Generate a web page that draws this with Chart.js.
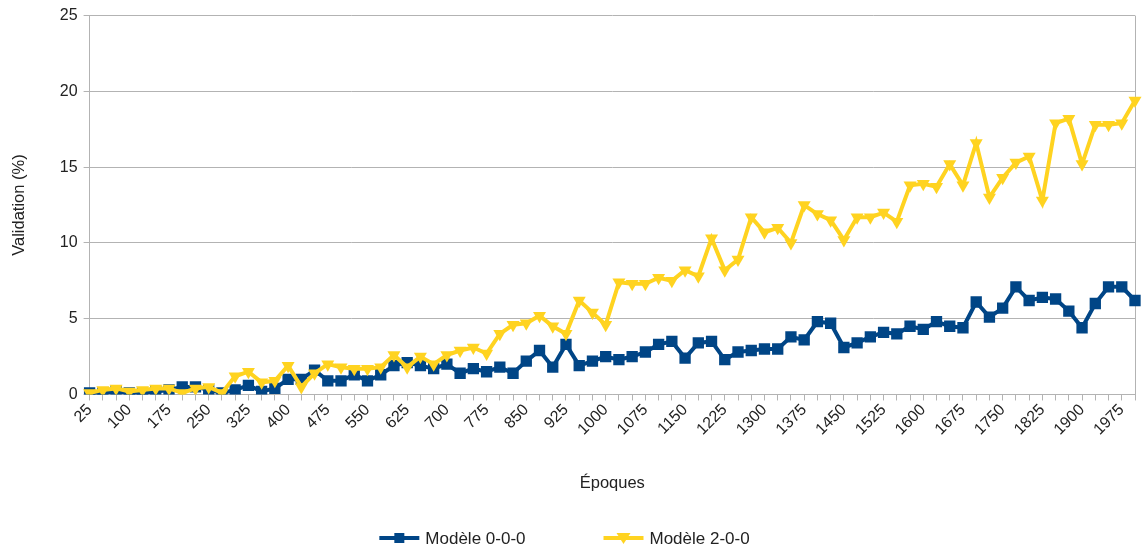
<!DOCTYPE html>
<html>
<head>
<meta charset="utf-8">
<script src="https://cdn.jsdelivr.net/npm/chart.js@4"></script>
<style>
  html, body { margin: 0; padding: 0; background: #ffffff; }
  #wrap { width: 1143px; height: 550px; }
</style>
</head>
<body>
<div id="wrap"><canvas id="c"></canvas></div>
<script>
// Epochs on the horizontal axis
const epochs = [
  25, 50, 75, 100, 125, 150, 175, 200, 225, 250,
  275, 300, 325, 350, 375, 400, 425, 450, 475, 500,
  525, 550, 575, 600, 625, 650, 675, 700, 725, 750,
  775, 800, 825, 850, 875, 900, 925, 950, 975, 1000,
  1025, 1050, 1075, 1100, 1125, 1150, 1175, 1200, 1225, 1250,
  1275, 1300, 1325, 1350, 1375, 1400, 1425, 1450, 1475, 1500,
  1525, 1550, 1575, 1600, 1625, 1650, 1675, 1700, 1725, 1750,
  1775, 1800, 1825, 1850, 1875, 1900, 1925, 1950, 1975, 2000
];

// Validation (%) per epoch
const modele000 = [
  0.1, 0.1, 0.2, 0.1, 0.1, 0.2, 0.3, 0.5, 0.5, 0.3,
  0.1, 0.3, 0.6, 0.2, 0.4, 1.0, 1.0, 1.6, 0.9, 0.9,
  1.3, 0.9, 1.3, 1.9, 2.1, 1.9, 1.7, 2.0, 1.4, 1.7,
  1.5, 1.8, 1.4, 2.2, 2.9, 1.8, 3.3, 1.9, 2.2, 2.5,
  2.3, 2.5, 2.8, 3.3, 3.5, 2.4, 3.4, 3.5, 2.3, 2.8,
  2.9, 3.0, 3.0, 3.8, 3.6, 4.8, 4.7, 3.1, 3.4, 3.8,
  4.1, 4.0, 4.5, 4.3, 4.8, 4.5, 4.4, 6.1, 5.1, 5.7,
  7.1, 6.2, 6.4, 6.3, 5.5, 4.4, 6.0, 7.1, 7.1, 6.2
];

const modele200 = [
  0.1, 0.3, 0.4, 0.2, 0.3, 0.4, 0.4, 0.1, 0.4, 0.5,
  0.1, 1.2, 1.5, 0.8, 0.9, 1.9, 0.5, 1.4, 2.0, 1.8,
  1.7, 1.7, 1.8, 2.6, 1.8, 2.5, 2.0, 2.6, 2.9, 3.1,
  2.7, 4.0, 4.6, 4.7, 5.2, 4.5, 4.0, 6.2, 5.4, 4.6,
  7.4, 7.3, 7.3, 7.7, 7.5, 8.2, 7.8, 10.3, 8.2, 8.9,
  11.7, 10.7, 11.0, 10.0, 12.5, 11.9, 11.5, 10.2, 11.7, 11.7,
  12.0, 11.4, 13.8, 13.9, 13.7, 15.2, 13.8, 16.6, 13.0, 14.3,
  15.3, 15.7, 12.8, 17.9, 18.2, 15.2, 17.8, 17.8, 17.9, 19.4
];

const seriesNames = ['Modèle 0-0-0', 'Modèle 2-0-0'];
const BLUE = '#004586';
const YELLOW = '#ffd320';
const GRID = '#b3b3b3';
const TEXT = '#222222';
const FONT = 'Liberation Sans, Arial, sans-serif';

const lastIndex = epochs.length - 1;

// Bottom legend: a short line with the series marker, then the series name
const lineLegend = {
  id: 'lineLegend',
  afterDraw(chart) {
    const ctx = chart.ctx;
    const fontSize = 17;
    const lineLen = 40, textGap = 6, itemGap = 78;
    const y = chart.height - 12;
    ctx.save();
    ctx.font = fontSize + 'px ' + FONT;
    const widths = chart.data.datasets.map(ds => lineLen + textGap + ctx.measureText(ds.label).width);
    const total = widths.reduce((a, b) => a + b, 0) + itemGap * (widths.length - 1);
    let x = (chart.width - total) / 2 - 7;
    chart.data.datasets.forEach((ds, i) => {
      ctx.strokeStyle = ds.borderColor;
      ctx.fillStyle = ds.borderColor;
      ctx.lineWidth = 4;
      ctx.beginPath();
      ctx.moveTo(x, y); ctx.lineTo(x + lineLen, y);
      ctx.stroke();
      const cx = x + lineLen / 2;
      ctx.beginPath();
      if (ds.pointStyle === 'rect') {
        ctx.rect(cx - 5, y - 5, 10, 10);
      } else {
        ctx.moveTo(cx - 7, y - 5); ctx.lineTo(cx + 7, y - 5); ctx.lineTo(cx, y + 6);
        ctx.closePath();
      }
      ctx.fill();
      ctx.fillStyle = TEXT;
      ctx.textBaseline = 'middle';
      ctx.textAlign = 'left';
      ctx.fillText(ds.label, x + lineLen + textGap, y + 1);
      x += widths[i] + itemGap;
    });
    ctx.restore();
  }
};

new Chart(document.getElementById('c'), {
  type: 'line',
  data: {
    labels: epochs,
    datasets: [
      {
        label: seriesNames[0],
        data: modele000,
        borderColor: BLUE,
        backgroundColor: BLUE,
        borderWidth: 4,
        pointStyle: 'rect',
        pointRadius: 8,
        pointBorderWidth: 0,
        pointHoverRadius: 8,
        tension: 0,
        order: 1
      },
      {
        label: seriesNames[1],
        data: modele200,
        borderColor: YELLOW,
        backgroundColor: YELLOW,
        borderWidth: 4,
        pointStyle: 'triangle',
        rotation: 180,
        pointRadius: 7.5,
        pointBorderWidth: 0,
        pointHoverRadius: 7.5,
        tension: 0,
        order: 0
      }
    ]
  },
  plugins: [lineLegend],
  options: {
    responsive: true,
    maintainAspectRatio: false,
    animation: false,
    layout: { padding: { left: 10, right: 8, top: 10, bottom: 57 } },
    plugins: {
      tooltip: { enabled: false },
      legend: { display: false }
    },
    scales: {
      x: {
        type: 'category',
        offset: false,
        afterFit: (scale) => { scale.paddingRight = 0; },
        border: { color: GRID, width: 1 },
        grid: {
          color: (ctx) => ctx.index === lastIndex ? GRID : 'rgba(0,0,0,0)',
          tickColor: GRID,
          tickLength: 6,
          drawOnChartArea: true
        },
        ticks: {
          autoSkip: false,
          maxRotation: 45,
          minRotation: 45,
          padding: 0,
          color: TEXT,
          font: { family: FONT, size: 16 },
          callback: (value, index) => index % 3 === 0 ? String(epochs[index]) : ''
        },
        title: {
          display: true,
          text: 'Époques',
          color: TEXT,
          font: { family: FONT, size: 16.5 },
          padding: { top: 34, bottom: 0 }
        }
      },
      y: {
        min: 0,
        max: 25,
        border: { color: GRID, width: 1 },
        grid: { color: GRID, tickColor: GRID, tickLength: 6 },
        ticks: {
          stepSize: 5,
          padding: 6,
          color: TEXT,
          font: { family: FONT, size: 16 }
        },
        title: {
          display: true,
          text: 'Validation (%)',
          color: TEXT,
          font: { family: FONT, size: 16.5 },
          padding: { top: 0, bottom: 24 }
        }
      }
    }
  }
});
</script>
</body>
</html>
